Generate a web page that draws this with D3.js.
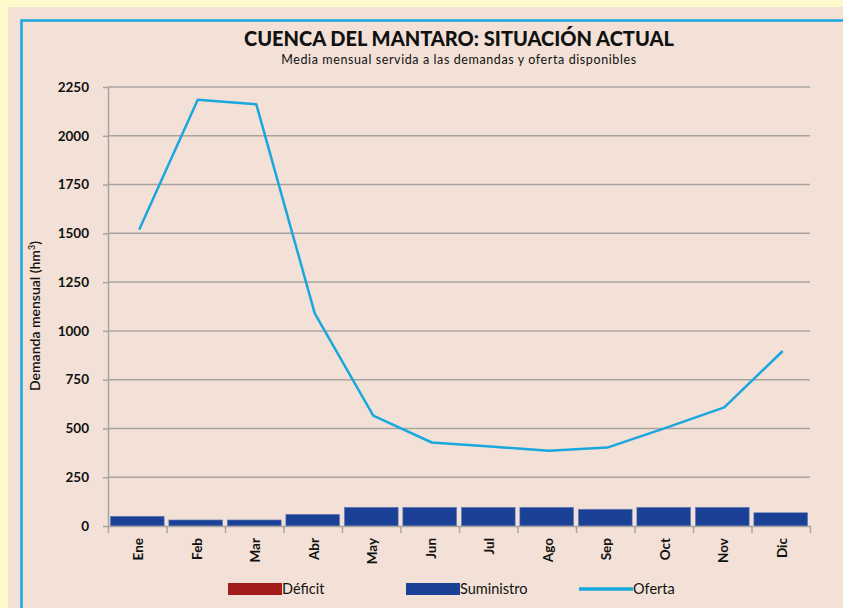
<!DOCTYPE html>
<html>
<head>
<meta charset="utf-8">
<script src="https://cdn.jsdelivr.net/npm/d3@7"></script>
<style>
  body { margin: 0; background: #fef9cb; }
  text { font-family: Lato, "Open Sans", sans-serif; fill: #111; }
</style>
</head>
<body>
<div id="chart"></div>
<script>
// data (hm3)
const months = ["Ene","Feb","Mar","Abr","May","Jun","Jul","Ago","Sep","Oct","Nov","Dic"]
const suministro = [50, 31, 31, 60, 96, 96, 96, 96, 86, 96, 96, 68]
const deficit = [0, 0, 0, 0, 0, 0, 0, 0, 0, 0, 0, 0]
const oferta = [1520, 2185, 2162, 1090, 566, 428, 407, 386, 402, 503, 608, 897]
const yTicks = [0, 250, 500, 750, 1000, 1250, 1500, 1750, 2000, 2250]
const legendLabels = ["Déficit", "Suministro", "Oferta"]

const W = 843, H = 608
const colors = { deficit: "#a31b1b", suministro: "#1b4196", oferta: "#1aa7de" }

const svg = d3.select("#chart").append("svg")
    .attr("width", W)
    .attr("height", H)

// pink panel + blue frame
svg.append("rect")
   .attr("x", 8).attr("y", 7)
   .attr("width", W).attr("height", H)
   .attr("fill", "#f3e1d7")

svg.append("path")
   .attr("d", "M21.5,700V20.5H900")
   .attr("fill", "none")
   .attr("stroke", colors.oferta)
   .attr("stroke-width", 2.5)

// titles
svg.append("text")
   .attr("x", 459).attr("y", 46)
   .attr("text-anchor", "middle")
   .attr("font-size", 20)
   .attr("font-weight", 900)
   .text("CUENCA DEL MANTARO: SITUACIÓN ACTUAL")

svg.append("text")
   .attr("x", 459).attr("y", 64)
   .attr("text-anchor", "middle")
   .attr("font-size", 12.5)
   .attr("letter-spacing", 0.6)
   .text("Media mensual servida a las demandas y oferta disponibles")

// scales
const left = 108, right = 810
const x = d3.scaleBand()
    .domain(months)
    .range([left, right])
    .paddingInner(0.08)
    .paddingOuter(0.04)
const xEdge = d3.scaleLinear().domain([0, months.length]).range([left, right])
const y = d3.scaleLinear().domain([0, 2250]).range([526, 87])

// grid
svg.append("g")
   .selectAll("line")
   .data(yTicks.filter(d => d > 0))
   .enter()
   .append("line")
   .attr("x1", left).attr("x2", right)
   .attr("y1", d => y(d)).attr("y2", d => y(d))
   .attr("stroke", "#a8a3a0")
   .attr("stroke-width", 1.5)

// y axis
const yAxis = svg.append("g")
   .attr("transform", `translate(${left},0)`)
   .call(d3.axisLeft(y).tickValues(yTicks).tickFormat(d3.format("d")).tickSize(5).tickPadding(14).tickSizeOuter(0))
yAxis.select(".domain").attr("stroke", "#a8a3a0").attr("stroke-width", 1.5)
yAxis.selectAll(".tick line").attr("stroke", "#a8a3a0").attr("stroke-width", 1.5)
yAxis.selectAll(".tick text")
     .attr("font-size", 13.5)
     .attr("font-weight", 700)
     .attr("font-family", "Lato, sans-serif")
     .attr("fill", "#111")

svg.append("text")
   .attr("transform", "translate(40,316) rotate(-90)")
   .attr("text-anchor", "middle")
   .attr("font-size", 14)
   .attr("font-weight", 600)
   .html("Demanda mensual (hm<tspan baseline-shift='super' font-size='9'>3</tspan>)")

// bars (suministro, deficit stacked on top)
svg.append("g")
   .selectAll("rect")
   .data(months)
   .enter()
   .append("rect")
   .attr("x", d => x(d))
   .attr("width", x.bandwidth())
   .attr("y", (d, i) => y(suministro[i]))
   .attr("height", (d, i) => y(0) - y(suministro[i]))
   .attr("fill", colors.suministro)
   .attr("stroke", "#6f86bd")
   .attr("stroke-width", 0.6)

svg.append("g")
   .selectAll("rect")
   .data(months)
   .enter()
   .append("rect")
   .attr("x", d => x(d))
   .attr("width", x.bandwidth())
   .attr("y", (d, i) => y(suministro[i] + deficit[i]))
   .attr("height", (d, i) => y(suministro[i]) - y(suministro[i] + deficit[i]))
   .attr("fill", colors.deficit)

// x axis
const xAxis = svg.append("g")
   .attr("transform", `translate(0,${y(0)})`)
   .call(d3.axisBottom(xEdge).ticks(12).tickSize(7).tickFormat("").tickSizeOuter(0))
xAxis.select(".domain").attr("stroke", "#a8a3a0").attr("stroke-width", 1.5)
xAxis.selectAll(".tick line").attr("stroke", "#a8a3a0").attr("stroke-width", 1.5)

svg.append("g")
   .selectAll("text")
   .data(months)
   .enter()
   .append("text")
   .attr("transform", d => `translate(${x(d) + x.bandwidth() / 2 + 1},538) rotate(-90)`)
   .attr("text-anchor", "end")
   .attr("dy", "0.36em")
   .attr("font-size", 13.5)
   .attr("font-weight", 700)
   .text(d => d)

// oferta line
const line = d3.line()
    .x((d, i) => x(months[i]) + x.bandwidth() / 2 + 2)
    .y(d => y(d))

svg.append("path")
   .datum(oferta)
   .attr("d", line)
   .attr("fill", "none")
   .attr("stroke", colors.oferta)
   .attr("stroke-width", 2.5)
   .attr("stroke-linejoin", "round")

// legend
const legendX = [228, 406, 579]
const legend = svg.append("g")
   .selectAll("g")
   .data(legendLabels)
   .enter()
   .append("g")
   .attr("transform", (d, i) => `translate(${legendX[i]},589)`)

legend.filter((d, i) => i < 2)
   .append("rect")
   .attr("x", 0).attr("y", -6)
   .attr("width", 54).attr("height", 12)
   .attr("fill", (d, i) => i === 0 ? colors.deficit : colors.suministro)

legend.filter((d, i) => i === 2)
   .append("line")
   .attr("x1", 0).attr("x2", 54)
   .attr("stroke", colors.oferta)
   .attr("stroke-width", 3.5)

legend.append("text")
   .attr("x", 54)
   .attr("dy", "0.35em")
   .attr("font-size", 14.5)
   .text(d => d)
</script>
</body>
</html>
